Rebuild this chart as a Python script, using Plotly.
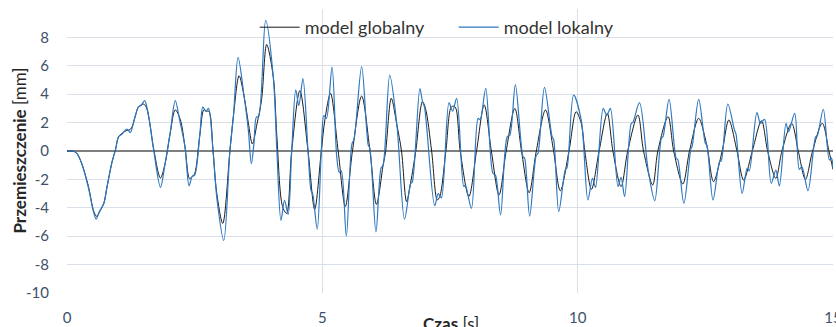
import plotly.graph_objects as go

# ---- data ----
t_global = [0.00, 0.10, 0.15, 0.20, 0.29, 0.42, 0.52, 0.58, 0.65, 0.72, 0.78, 0.88, 0.95, 1.01, 1.08, 1.17,
            1.23, 1.28, 1.34, 1.40, 1.50, 1.55, 1.60, 1.70, 1.83, 1.92, 2.02, 2.12, 2.22, 2.31, 2.40, 2.45,
            2.50, 2.60, 2.68, 2.73, 2.78, 2.86, 2.93, 3.05, 3.19, 3.26, 3.37, 3.47, 3.55, 3.63, 3.72, 3.81,
            3.91, 4.04, 4.11, 4.22, 4.30, 4.40, 4.56, 4.72, 4.85, 4.98, 5.05, 5.16, 5.31, 5.45, 5.59, 5.77,
            5.93, 6.06, 6.19, 6.24, 6.35, 6.46, 6.55, 6.65, 6.73, 6.83, 6.96, 7.02, 7.14, 7.25, 7.30, 7.42,
            7.53, 7.60, 7.70, 7.87, 8.02, 8.17, 8.31, 8.46, 8.60, 8.77, 8.90, 9.05, 9.19, 9.37, 9.52, 9.66,
            9.83, 9.97, 10.07, 10.14, 10.27, 10.42, 10.58, 10.69, 10.85, 10.98, 11.18, 11.29, 11.47, 11.57,
            11.77, 11.88, 12.06, 12.19, 12.37, 12.52, 12.55, 12.66, 12.83, 12.96, 13.12, 13.25, 13.42, 13.60,
            13.72, 13.88, 14.00, 14.19, 14.32, 14.46, 14.60, 14.79, 14.92, 15.00]
y_global = [0.0, 0.0, -0.05, -0.2, -0.9, -2.5, -4.2, -4.6, -4.2, -3.7, -2.6, -0.8, 0.1, 1.0, 1.25, 1.45,
            1.5, 1.75, 2.5, 3.1, 3.3, 3.1, 2.4, 0.1, -1.9, -0.9, 1.25, 2.9, 2.2, 0.3, -1.95, -1.8,
            -1.6, 1.1, 2.9, 2.8, 2.8, 0.0, -2.9, -5.1, 0.0, 2.5, 5.3, 3.8, 2.0, 0.5, 1.9, 3.6,
            7.5, 5.2, 1.0, -3.9, -4.4, 0.0, 4.25, 0.0, -4.1, 0.0, 2.2, 4.06, 0.0, -3.9, 0.0, 3.87,
            0.1, -3.76, -1.0, 0.0, 3.71, 1.83, 0.0, -3.57, -2.2, 0.0, 3.47, 3.0, 0.0, -3.45, -3.2, 0.0,
            3.12, 3.1, 0.0, -3.2, 0.0, 3.24, 0.0, -3.1, 0.0, 3.0, 0.0, -2.94, 0.0, 2.89, 0.2, -2.8,
            0.0, 2.77, 1.95, 0.0, -2.7, 0.0, 2.65, 0.0, -2.5, 0.0, 2.53, 0.0, -2.39, 0.0,
            2.42, 0.0, -2.32, 0.0, 2.3, 0.54, 0.0, -2.16, 0.0, 2.18, 0.0, -2.04, 0.0, 2.13,
            0.0, -1.92, 0.0, 1.95, 0.0, -2.0, 0.0, 1.95, 0.0, -1.3]

t_local = [0.00, 0.10, 0.15, 0.20, 0.29, 0.42, 0.52, 0.57, 0.63, 0.72, 0.78, 0.88, 0.95, 1.01, 1.08, 1.17,
           1.24, 1.28, 1.34, 1.40, 1.45, 1.52, 1.57, 1.62, 1.70, 1.83, 1.92, 2.02, 2.12, 2.21, 2.31, 2.39,
           2.45, 2.50, 2.60, 2.66, 2.72, 2.77, 2.86, 2.94, 3.07, 3.19, 3.26, 3.35, 3.47, 3.55, 3.61, 3.66,
           3.71, 3.75, 3.89, 4.04, 4.11, 4.19, 4.26, 4.33, 4.40, 4.48, 4.54, 4.62, 4.72, 4.78, 4.81, 4.90,
           4.98, 5.03, 5.08, 5.19, 5.28, 5.33, 5.37, 5.47, 5.58, 5.62, 5.77, 5.90, 5.93, 6.05, 6.15, 6.19,
           6.32, 6.46, 6.61, 6.73, 6.76, 6.91, 6.96, 7.00, 7.20, 7.27, 7.33, 7.48, 7.55, 7.63, 7.77, 7.80,
           7.92, 8.05, 8.09, 8.20, 8.34, 8.39, 8.49, 8.62, 8.67, 8.78, 8.93, 8.96, 9.06, 9.19, 9.22, 9.35,
           9.50, 9.53, 9.63, 9.76, 9.79, 9.92, 10.07, 10.20, 10.29, 10.35, 10.50, 10.57, 10.64, 10.79, 10.85,
           10.92, 11.05, 11.08, 11.21, 11.38, 11.51, 11.64, 11.67, 11.79, 11.93, 11.96, 12.08, 12.22, 12.24,
           12.37, 12.50, 12.53, 12.65, 12.78, 12.81, 12.94, 13.07, 13.10, 13.22, 13.32, 13.36, 13.51, 13.58,
           13.66, 13.79, 13.88, 13.95, 14.08, 14.13, 14.25, 14.34, 14.39, 14.51, 14.66, 14.69, 14.81, 14.93,
           14.97, 15.00]
y_local = [0.0, 0.0, -0.05, -0.2, -0.9, -2.6, -4.3, -4.8, -4.3, -3.7, -2.6, -0.8, 0.1, 1.0, 1.2, 1.55,
           1.3, 1.7, 2.5, 3.1, 3.2, 3.55, 3.0, 2.0, 0.0, -2.55, -0.9, 1.25, 3.55, 2.1, 0.3, -2.45,
           -1.8, -1.7, 1.1, 3.1, 2.8, 3.0, 0.0, -3.5, -6.3, 0.0, 2.5, 6.6, 3.8, 1.5, -0.9, 0.5,
           2.4, 2.4, 9.2, 5.2, 0.0, -4.88, -3.47, -4.46, 0.0, 4.3, 3.2, 5.1, 0.0, -2.8, -3.0, -5.5,
           0.0, 2.5, 2.3, 5.9, -0.3, -1.5, -1.4, -6.0, 0.5, 0.8, 5.94, 0.4, 0.2, -5.7, -1.2, -1.0,
           5.35, 1.83, -4.8, -2.3, -2.2, 4.4, 3.5, 3.1, -3.85, -3.0, -3.3, 3.4, 2.8, 3.7, -2.5, -2.4,
           -4.04, 2.3, 2.2, 4.41, -1.57, -1.7, -4.5, 1.0, 1.1, 4.65, -0.4, -0.5, -4.58, -0.3, -0.2, 4.48,
           1.0, 0.8, -4.27, -1.3, -1.2, 3.94, 2.18, -3.45, -1.92, -2.56, 3.0, 2.5, 3.0, -2.5, -1.85,
           -3.2, 1.95, 2.0, 3.4, -1.34, -3.5, 0.9, 1.0, 3.64, -0.52, -0.6, -3.69, 0.19, 0.3,
           3.64, 0.54, 0.4, -3.45, -0.75, -0.7, 3.31, 1.48, 1.2, -2.98, -1.2, -1.4, 2.7, 1.95,
           2.23, -2.28, -1.34, -2.46, 1.95, 1.36, 2.65, -1.29, -1.1, -2.8, 1.0, 1.05, 2.94, -0.63,
           -0.5, -1.2]

x_ticks = [0, 5, 10, 15]
y_ticks = [-10, -8, -6, -4, -2, 0, 2, 4, 6, 8, 10]
y_tick_labels = ["-10", "-8", "-6", "-4", "-2", "0", "2", "4", "6", "8", ""]

FONT = "Lato"
TICK_COLOR = "#3E5168"
GRID = "#D9E0E9"

fig = go.Figure()
fig.add_trace(go.Scatter(x=t_global, y=y_global, mode="lines", name="model globalny",
                         line=dict(color="#1A1A1A", width=1, shape="spline", smoothing=0.9)))
fig.add_trace(go.Scatter(x=t_local, y=y_local, mode="lines", name="model lokalny",
                         line=dict(color="#2E78C0", width=1.2, shape="spline", smoothing=0.9)))

fig.update_layout(
    width=836, height=327,
    margin=dict(l=67, r=3, t=9, b=34),
    paper_bgcolor="white", plot_bgcolor="white",
    font=dict(family=FONT, size=15, color=TICK_COLOR),
    showlegend=True,
    legend=dict(orientation="h", x=0.245, xanchor="left", y=1.0, yanchor="top",
                bgcolor="rgba(0,0,0,0)", font=dict(family=FONT, size=18, color="#333333"),
                itemwidth=40, entrywidth=144, entrywidthmode="pixels",
                traceorder="normal"),
    xaxis=dict(range=[0, 15], tickvals=x_ticks, showgrid=True, gridcolor=GRID, gridwidth=1,
               zeroline=False, showline=False, ticks="outside", ticklen=11,
               tickcolor="rgba(0,0,0,0)", tickfont=dict(family=FONT, size=15, color=TICK_COLOR),
               ticklabeloverflow="allow", automargin=False, fixedrange=True),
    yaxis=dict(range=[-10, 10], tickvals=y_ticks, ticktext=y_tick_labels, showgrid=True,
               gridcolor=GRID, gridwidth=1, zeroline=True, zerolinecolor="#7F7F7F",
               zerolinewidth=1.5, showline=False, ticks="outside", ticklen=14,
               tickcolor="rgba(0,0,0,0)", tickfont=dict(family=FONT, size=15, color=TICK_COLOR),
               automargin=False, fixedrange=True),
    annotations=[
        dict(text="<b>Przemieszczenie</b> [mm]", xref="paper", yref="y", x=-0.0633, y=0,
             textangle=-90, showarrow=False, xanchor="center", yanchor="middle",
             font=dict(family=FONT, size=17, color="#262626")),
        dict(text="<b>Czas</b> [s]", xref="paper", yref="paper", x=(451 - 67) / 766, y=-0.108,
             showarrow=False, xanchor="center", yanchor="middle",
             font=dict(family=FONT, size=17, color="#262626")),
    ],
)

fig.write_html("out.html", config={"displayModeBar": False},
               post_script="document.body.style.margin='0px';")
